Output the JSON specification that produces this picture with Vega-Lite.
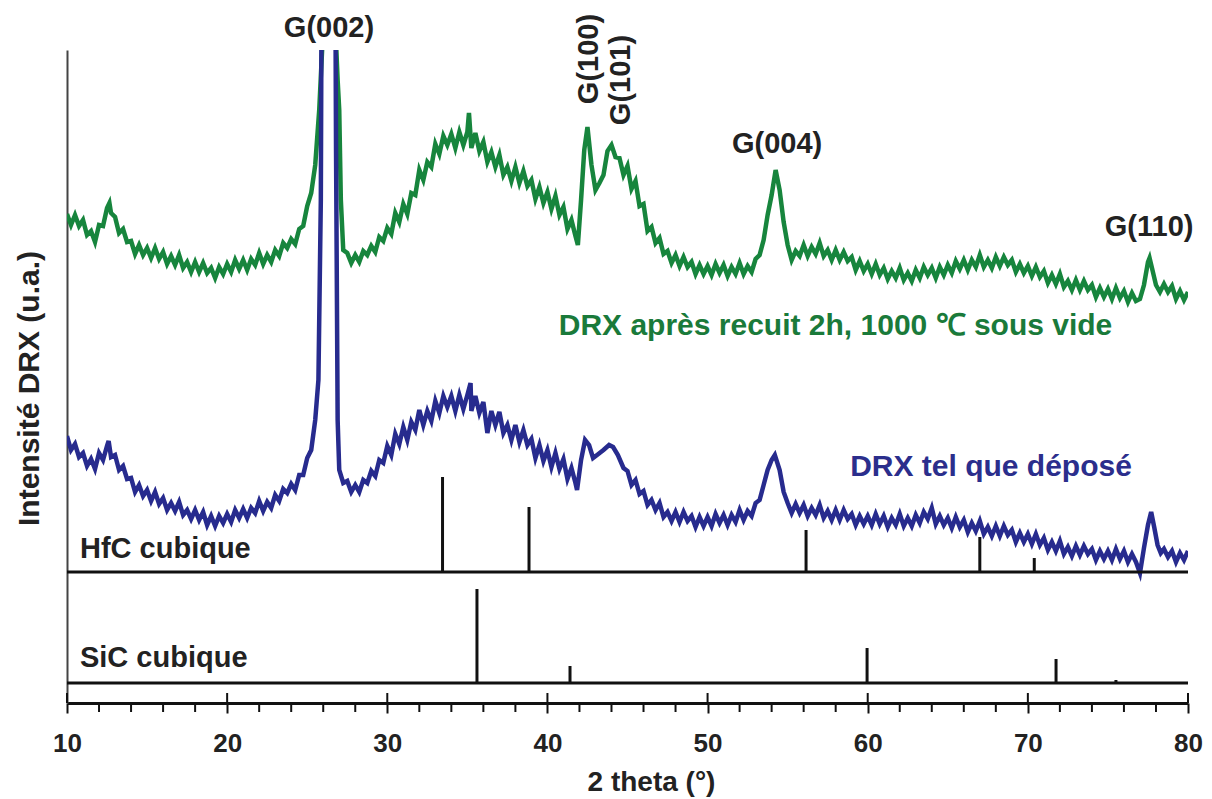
{
  "$schema": "https://vega.github.io/schema/vega-lite/v6.json",
  "width": 1121,
  "height": 653,
  "autosize": {"type": "none"},
  "padding": {"left": 67, "top": 50, "right": 24, "bottom": 96},
  "background": "white",
  "config": {"view": {"stroke": null}, "font": "Liberation Sans"},
  "datasets": {
    "green": [
      {"t":10,"v":489},{"t":10.25,"v":478},{"t":10.5,"v":488},{"t":10.75,"v":477},{"t":11,"v":483},{"t":11.25,"v":468},{"t":11.5,"v":472},{"t":11.75,"v":461},{"t":12,"v":478},{"t":12.25,"v":477},{"t":12.5,"v":495},{"t":12.65,"v":500},{"t":12.75,"v":490},{"t":13,"v":486},{"t":13.25,"v":470},{"t":13.5,"v":474},{"t":13.75,"v":461},{"t":14,"v":462},{"t":14.25,"v":449},{"t":14.5,"v":458},{"t":14.75,"v":448},{"t":15,"v":455},{"t":15.25,"v":445},{"t":15.5,"v":455},{"t":15.75,"v":444},{"t":16,"v":451},{"t":16.25,"v":439},{"t":16.5,"v":447},{"t":16.75,"v":438},{"t":17,"v":448},{"t":17.25,"v":435},{"t":17.5,"v":441},{"t":17.75,"v":431},{"t":18,"v":441},{"t":18.25,"v":431},{"t":18.5,"v":440},{"t":18.75,"v":430},{"t":19,"v":435},{"t":19.25,"v":425},{"t":19.5,"v":436},{"t":19.75,"v":429},{"t":20,"v":439},{"t":20.25,"v":431},{"t":20.5,"v":443},{"t":20.75,"v":434},{"t":21,"v":443},{"t":21.25,"v":433},{"t":21.5,"v":444},{"t":21.75,"v":438},{"t":22,"v":450},{"t":22.25,"v":439},{"t":22.5,"v":448},{"t":22.75,"v":441},{"t":23,"v":453},{"t":23.25,"v":447},{"t":23.5,"v":460},{"t":23.75,"v":455},{"t":24,"v":464},{"t":24.25,"v":459},{"t":24.5,"v":474},{"t":24.75,"v":477},{"t":25,"v":497},{"t":25.25,"v":510},{"t":25.5,"v":538},{"t":25.75,"v":593},{"t":26.4,"v":810},{"t":26.9,"v":623},{"t":27,"v":593},{"t":27.1,"v":503},{"t":27.25,"v":453},{"t":27.5,"v":450},{"t":27.75,"v":440},{"t":28,"v":448},{"t":28.25,"v":441},{"t":28.5,"v":452},{"t":28.75,"v":448},{"t":29,"v":457},{"t":29.25,"v":451},{"t":29.5,"v":466},{"t":29.75,"v":462},{"t":30,"v":475},{"t":30.25,"v":469},{"t":30.5,"v":490},{"t":30.75,"v":481},{"t":31,"v":499},{"t":31.25,"v":489},{"t":31.5,"v":510},{"t":31.75,"v":508},{"t":32,"v":533},{"t":32.25,"v":523},{"t":32.5,"v":541},{"t":32.75,"v":536},{"t":33,"v":559},{"t":33.25,"v":549},{"t":33.5,"v":567},{"t":33.75,"v":558},{"t":34,"v":569},{"t":34.25,"v":555},{"t":34.5,"v":571},{"t":34.75,"v":558},{"t":35,"v":571},{"t":35.1,"v":590},{"t":35.25,"v":555},{"t":35.5,"v":570},{"t":35.75,"v":552},{"t":36,"v":561},{"t":36.25,"v":541},{"t":36.5,"v":551},{"t":36.75,"v":536},{"t":37,"v":548},{"t":37.25,"v":528},{"t":37.5,"v":536},{"t":37.75,"v":522},{"t":38,"v":536},{"t":38.25,"v":520},{"t":38.5,"v":532},{"t":38.75,"v":517},{"t":39,"v":523},{"t":39.25,"v":504},{"t":39.5,"v":516},{"t":39.75,"v":500},{"t":40,"v":511},{"t":40.25,"v":494},{"t":40.5,"v":507},{"t":40.75,"v":488},{"t":41,"v":496},{"t":41.25,"v":474},{"t":41.5,"v":483},{"t":41.75,"v":467},{"t":41.9,"v":458},{"t":42.1,"v":503},{"t":42.3,"v":553},{"t":42.5,"v":576},{"t":42.75,"v":538},{"t":43,"v":513},{"t":43.25,"v":520},{"t":43.5,"v":528},{"t":43.75,"v":552},{"t":44,"v":558},{"t":44.25,"v":546},{"t":44.5,"v":545},{"t":44.75,"v":528},{"t":45,"v":537},{"t":45.25,"v":514},{"t":45.5,"v":522},{"t":45.75,"v":497},{"t":46,"v":499},{"t":46.25,"v":472},{"t":46.5,"v":476},{"t":46.75,"v":460},{"t":47,"v":465},{"t":47.25,"v":449},{"t":47.5,"v":452},{"t":47.75,"v":440},{"t":48,"v":448},{"t":48.25,"v":437},{"t":48.5,"v":446},{"t":48.75,"v":436},{"t":49,"v":441},{"t":49.25,"v":429},{"t":49.5,"v":438},{"t":49.75,"v":429},{"t":50,"v":437},{"t":50.25,"v":428},{"t":50.5,"v":439},{"t":50.75,"v":430},{"t":51,"v":438},{"t":51.25,"v":427},{"t":51.5,"v":436},{"t":51.75,"v":429},{"t":52,"v":440},{"t":52.25,"v":429},{"t":52.5,"v":437},{"t":52.75,"v":431},{"t":53,"v":444},{"t":53.25,"v":448},{"t":53.5,"v":463},{"t":53.75,"v":488},{"t":54,"v":508},{"t":54.25,"v":533},{"t":54.5,"v":513},{"t":54.75,"v":481},{"t":55,"v":458},{"t":55.25,"v":443},{"t":55.5,"v":452},{"t":55.75,"v":447},{"t":56,"v":458},{"t":56.25,"v":447},{"t":56.5,"v":456},{"t":56.75,"v":449},{"t":57,"v":460},{"t":57.25,"v":447},{"t":57.5,"v":453},{"t":57.75,"v":443},{"t":58,"v":453},{"t":58.25,"v":443},{"t":58.5,"v":451},{"t":58.75,"v":442},{"t":59,"v":446},{"t":59.25,"v":433},{"t":59.5,"v":442},{"t":59.75,"v":432},{"t":60,"v":439},{"t":60.25,"v":429},{"t":60.5,"v":439},{"t":60.75,"v":428},{"t":61,"v":435},{"t":61.25,"v":424},{"t":61.5,"v":432},{"t":61.75,"v":425},{"t":62,"v":435},{"t":62.25,"v":423},{"t":62.5,"v":430},{"t":62.75,"v":422},{"t":63,"v":433},{"t":63.25,"v":425},{"t":63.5,"v":436},{"t":63.75,"v":428},{"t":64,"v":435},{"t":64.25,"v":425},{"t":64.5,"v":436},{"t":64.75,"v":428},{"t":65,"v":438},{"t":65.25,"v":430},{"t":65.5,"v":442},{"t":65.75,"v":434},{"t":66,"v":443},{"t":66.25,"v":433},{"t":66.5,"v":443},{"t":66.75,"v":436},{"t":67,"v":448},{"t":67.25,"v":436},{"t":67.5,"v":443},{"t":67.75,"v":435},{"t":68,"v":446},{"t":68.25,"v":437},{"t":68.5,"v":446},{"t":68.75,"v":438},{"t":69,"v":443},{"t":69.25,"v":431},{"t":69.5,"v":439},{"t":69.75,"v":430},{"t":70,"v":437},{"t":70.25,"v":427},{"t":70.5,"v":436},{"t":70.75,"v":426},{"t":71,"v":432},{"t":71.25,"v":420},{"t":71.5,"v":428},{"t":71.75,"v":419},{"t":72,"v":429},{"t":72.25,"v":416},{"t":72.5,"v":422},{"t":72.75,"v":413},{"t":73,"v":423},{"t":73.25,"v":413},{"t":73.5,"v":422},{"t":73.75,"v":413},{"t":74,"v":418},{"t":74.25,"v":406},{"t":74.5,"v":415},{"t":74.75,"v":406},{"t":75,"v":414},{"t":75.25,"v":404},{"t":75.5,"v":415},{"t":75.75,"v":405},{"t":76,"v":412},{"t":76.25,"v":401},{"t":76.5,"v":410},{"t":76.75,"v":402},{"t":77,"v":404},{"t":77.25,"v":418},{"t":77.5,"v":441},{"t":77.6,"v":445},{"t":77.75,"v":435},{"t":78,"v":418},{"t":78.25,"v":411},{"t":78.5,"v":419},{"t":78.75,"v":411},{"t":79,"v":417},{"t":79.25,"v":404},{"t":79.5,"v":412},{"t":79.75,"v":403},{"t":80,"v":411}
    ],
    "blue": [
      {"t":10,"v":267},{"t":10.25,"v":253},{"t":10.5,"v":259},{"t":10.75,"v":246},{"t":11,"v":250},{"t":11.25,"v":237},{"t":11.5,"v":244},{"t":11.75,"v":234},{"t":12,"v":250},{"t":12.25,"v":243},{"t":12.5,"v":257},{"t":12.6,"v":262},{"t":12.75,"v":246},{"t":13,"v":248},{"t":13.25,"v":233},{"t":13.5,"v":237},{"t":13.75,"v":224},{"t":14,"v":225},{"t":14.25,"v":211},{"t":14.5,"v":218},{"t":14.75,"v":207},{"t":15,"v":213},{"t":15.25,"v":202},{"t":15.5,"v":211},{"t":15.75,"v":199},{"t":16,"v":205},{"t":16.25,"v":193},{"t":16.5,"v":200},{"t":16.75,"v":192},{"t":17,"v":201},{"t":17.25,"v":188},{"t":17.5,"v":193},{"t":17.75,"v":184},{"t":18,"v":193},{"t":18.25,"v":183},{"t":18.5,"v":191},{"t":18.75,"v":178},{"t":19,"v":187},{"t":19.25,"v":177},{"t":19.5,"v":187},{"t":19.75,"v":180},{"t":20,"v":189},{"t":20.25,"v":181},{"t":20.5,"v":193},{"t":20.75,"v":185},{"t":21,"v":194},{"t":21.25,"v":185},{"t":21.5,"v":195},{"t":21.75,"v":190},{"t":22,"v":202},{"t":22.25,"v":192},{"t":22.5,"v":201},{"t":22.75,"v":195},{"t":23,"v":208},{"t":23.25,"v":202},{"t":23.5,"v":214},{"t":23.75,"v":210},{"t":24,"v":219},{"t":24.25,"v":213},{"t":24.5,"v":228},{"t":24.75,"v":228},{"t":25,"v":245},{"t":25.25,"v":253},{"t":25.5,"v":283},{"t":25.7,"v":323},{"t":25.85,"v":503},{"t":26.3,"v":2500},{"t":26.8,"v":553},{"t":26.9,"v":283},{"t":27,"v":233},{"t":27.25,"v":220},{"t":27.5,"v":222},{"t":27.75,"v":211},{"t":28,"v":218},{"t":28.25,"v":211},{"t":28.5,"v":223},{"t":28.75,"v":220},{"t":29,"v":232},{"t":29.25,"v":227},{"t":29.5,"v":243},{"t":29.75,"v":240},{"t":30,"v":257},{"t":30.25,"v":248},{"t":30.5,"v":269},{"t":30.75,"v":259},{"t":31,"v":276},{"t":31.25,"v":263},{"t":31.5,"v":281},{"t":31.75,"v":273},{"t":32,"v":293},{"t":32.25,"v":278},{"t":32.5,"v":292},{"t":32.75,"v":282},{"t":33,"v":302},{"t":33.25,"v":290},{"t":33.5,"v":307},{"t":33.75,"v":296},{"t":34,"v":307},{"t":34.25,"v":292},{"t":34.5,"v":308},{"t":34.75,"v":294},{"t":35,"v":308},{"t":35.2,"v":320},{"t":35.25,"v":292},{"t":35.5,"v":307},{"t":35.75,"v":290},{"t":36,"v":301},{"t":36.25,"v":270},{"t":36.5,"v":292},{"t":36.75,"v":278},{"t":37,"v":291},{"t":37.25,"v":270},{"t":37.5,"v":278},{"t":37.75,"v":263},{"t":38,"v":278},{"t":38.25,"v":261},{"t":38.5,"v":273},{"t":38.75,"v":258},{"t":39,"v":264},{"t":39.25,"v":245},{"t":39.5,"v":258},{"t":39.75,"v":242},{"t":40,"v":253},{"t":40.25,"v":236},{"t":40.5,"v":250},{"t":40.75,"v":234},{"t":41,"v":244},{"t":41.25,"v":224},{"t":41.5,"v":235},{"t":41.75,"v":220},{"t":41.85,"v":213},{"t":42.1,"v":243},{"t":42.35,"v":263},{"t":42.6,"v":258},{"t":42.85,"v":245},{"t":43.1,"v":248},{"t":43.5,"v":253},{"t":43.85,"v":258},{"t":44.1,"v":256},{"t":44.4,"v":248},{"t":44.75,"v":235},{"t":45,"v":232},{"t":45.25,"v":218},{"t":45.5,"v":223},{"t":45.75,"v":209},{"t":46,"v":212},{"t":46.25,"v":198},{"t":46.5,"v":203},{"t":46.75,"v":193},{"t":47,"v":200},{"t":47.25,"v":186},{"t":47.5,"v":191},{"t":47.75,"v":182},{"t":48,"v":191},{"t":48.25,"v":181},{"t":48.5,"v":191},{"t":48.75,"v":182},{"t":49,"v":187},{"t":49.25,"v":176},{"t":49.5,"v":186},{"t":49.75,"v":177},{"t":50,"v":186},{"t":50.25,"v":177},{"t":50.5,"v":189},{"t":50.75,"v":180},{"t":51,"v":188},{"t":51.25,"v":178},{"t":51.5,"v":188},{"t":51.75,"v":181},{"t":52,"v":193},{"t":52.25,"v":183},{"t":52.5,"v":192},{"t":52.75,"v":187},{"t":53,"v":200},{"t":53.25,"v":203},{"t":53.5,"v":218},{"t":53.75,"v":233},{"t":54,"v":243},{"t":54.2,"v":248},{"t":54.5,"v":233},{"t":54.75,"v":211},{"t":55,"v":200},{"t":55.25,"v":190},{"t":55.5,"v":199},{"t":55.75,"v":190},{"t":56,"v":198},{"t":56.25,"v":187},{"t":56.5,"v":195},{"t":56.75,"v":188},{"t":57,"v":198},{"t":57.25,"v":185},{"t":57.5,"v":192},{"t":57.75,"v":183},{"t":58,"v":193},{"t":58.25,"v":183},{"t":58.5,"v":193},{"t":58.75,"v":184},{"t":59,"v":189},{"t":59.25,"v":178},{"t":59.5,"v":187},{"t":59.75,"v":179},{"t":60,"v":187},{"t":60.25,"v":178},{"t":60.5,"v":189},{"t":60.75,"v":179},{"t":61,"v":187},{"t":61.25,"v":176},{"t":61.5,"v":185},{"t":61.75,"v":178},{"t":62,"v":189},{"t":62.25,"v":177},{"t":62.5,"v":185},{"t":62.75,"v":177},{"t":63,"v":188},{"t":63.25,"v":180},{"t":63.5,"v":191},{"t":63.75,"v":184},{"t":64,"v":195},{"t":64.25,"v":179},{"t":64.5,"v":187},{"t":64.75,"v":178},{"t":65,"v":185},{"t":65.25,"v":175},{"t":65.5,"v":186},{"t":65.75,"v":176},{"t":66,"v":183},{"t":66.25,"v":171},{"t":66.5,"v":180},{"t":66.75,"v":172},{"t":67,"v":182},{"t":67.25,"v":169},{"t":67.5,"v":176},{"t":67.75,"v":167},{"t":68,"v":177},{"t":68.25,"v":167},{"t":68.5,"v":177},{"t":68.75,"v":168},{"t":69,"v":173},{"t":69.25,"v":161},{"t":69.5,"v":170},{"t":69.75,"v":161},{"t":70,"v":169},{"t":70.25,"v":159},{"t":70.5,"v":169},{"t":70.75,"v":158},{"t":71,"v":165},{"t":71.25,"v":153},{"t":71.5,"v":161},{"t":71.75,"v":152},{"t":72,"v":162},{"t":72.25,"v":149},{"t":72.5,"v":156},{"t":72.75,"v":147},{"t":73,"v":157},{"t":73.25,"v":148},{"t":73.5,"v":157},{"t":73.75,"v":149},{"t":74,"v":154},{"t":74.25,"v":143},{"t":74.5,"v":152},{"t":74.75,"v":144},{"t":75,"v":152},{"t":75.25,"v":143},{"t":75.5,"v":154},{"t":75.75,"v":144},{"t":76,"v":152},{"t":76.25,"v":141},{"t":76.5,"v":149},{"t":76.75,"v":141},{"t":77,"v":130},{"t":77.25,"v":155},{"t":77.5,"v":178},{"t":77.7,"v":191},{"t":77.9,"v":175},{"t":78.1,"v":158},{"t":78.3,"v":150},{"t":78.5,"v":154},{"t":78.75,"v":146},{"t":79,"v":152},{"t":79.25,"v":141},{"t":79.5,"v":150},{"t":79.75,"v":143},{"t":80,"v":152}
    ],
    "bases": [
      {"phase": "HfC cubique", "base": 131},
      {"phase": "SiC cubique", "base": 20}
    ],
    "sticks": [
      {"phase": "HfC cubique", "t": 33.45, "y0": 131, "y1": 226},
      {"phase": "HfC cubique", "t": 38.85, "y0": 131, "y1": 196},
      {"phase": "HfC cubique", "t": 56.15, "y0": 131, "y1": 173},
      {"phase": "HfC cubique", "t": 67.0, "y0": 131, "y1": 166},
      {"phase": "HfC cubique", "t": 70.4, "y0": 131, "y1": 145},
      {"phase": "SiC cubique", "t": 35.6, "y0": 20, "y1": 114},
      {"phase": "SiC cubique", "t": 41.41, "y0": 20, "y1": 37},
      {"phase": "SiC cubique", "t": 59.96, "y0": 20, "y1": 55},
      {"phase": "SiC cubique", "t": 71.76, "y0": 20, "y1": 44},
      {"phase": "SiC cubique", "t": 75.5, "y0": 20, "y1": 23}
    ],
    "majors": [{"t": 10}, {"t": 20}, {"t": 30}, {"t": 40}, {"t": 50}, {"t": 60}, {"t": 70}, {"t": 80}],
    "minors": [{"t":12},{"t":14},{"t":16},{"t":18},{"t":22},{"t":24},{"t":26},{"t":28},{"t":32},{"t":34},{"t":36},{"t":38},{"t":42},{"t":44},{"t":46},{"t":48},{"t":52},{"t":54},{"t":56},{"t":58},{"t":62},{"t":64},{"t":66},{"t":68},{"t":72},{"t":74},{"t":76},{"t":78}],
    "hlabels": [
      {"label": "G(002)", "t": 26.36, "v": 666},
      {"label": "G(004)", "t": 54.34, "v": 550},
      {"label": "G(110)", "t": 77.57, "v": 467}
    ],
    "vlabels": [
      {"label": "G(100)", "t": 43.16, "v": 644},
      {"label": "G(101)", "t": 45.16, "v": 623}
    ],
    "phaselabels": [
      {"label": "HfC cubique", "t": 10.81, "v": 145},
      {"label": "SiC cubique", "t": 10.81, "v": 36}
    ],
    "greenlabel": [{"label": "DRX après recuit 2h, 1000 ℃ sous vide", "t": 57.99, "v": 368}],
    "bluelabel": [{"label": "DRX tel que déposé", "t": 67.7, "v": 227}]
  },
  "layer": [
    {
      "data": {"name": "green"},
      "mark": {"type": "line", "color": "#17853d", "strokeWidth": 4.5, "clip": true},
      "encoding": {
        "x": {
          "field": "t", "type": "quantitative",
          "scale": {"domain": [10, 80], "nice": false, "zero": false},
          "axis": {
            "title": "2 theta (°)",
            "values": [10, 20, 30, 40, 50, 60, 70, 80],
            "grid": false,
            "domainColor": "#111", "domainWidth": 3,
            "tickColor": "#111", "tickWidth": 2, "tickSize": 10,
            "labelFontSize": 26, "labelFontWeight": "bold", "labelColor": "#222",
            "labelPadding": 17, "labelFlush": false, "labelOverlap": false,
            "titleFontSize": 28, "titleFontWeight": "bold", "titleColor": "#222",
            "titleX": 584, "titleY": 87, "titleBaseline": "alphabetic", "titleAlign": "center"
          }
        },
        "y": {
          "field": "v", "type": "quantitative",
          "scale": {"domain": [0, 653], "nice": false, "zero": false},
          "axis": {
            "title": "Intensité DRX (u.a.)",
            "grid": false, "ticks": false, "labels": false,
            "domainColor": "#444", "domainWidth": 2,
            "titleFontSize": 30, "titleFontWeight": "bold", "titleColor": "#222",
            "titleX": -29, "titleY": 338, "titleAngle": 270,
            "titleBaseline": "alphabetic", "titleAlign": "center"
          }
        }
      }
    },
    {
      "data": {"name": "blue"},
      "mark": {"type": "line", "color": "#272b8e", "strokeWidth": 4.5, "clip": true},
      "encoding": {
        "x": {"field": "t", "type": "quantitative"},
        "y": {"field": "v", "type": "quantitative"}
      }
    },
    {
      "data": {"name": "bases"},
      "mark": {"type": "rule", "color": "#111", "strokeWidth": 3},
      "encoding": {"y": {"field": "base", "type": "quantitative"}}
    },
    {
      "data": {"name": "sticks"},
      "mark": {"type": "rule", "color": "#111", "strokeWidth": 3},
      "encoding": {
        "x": {"field": "t", "type": "quantitative"},
        "y": {"field": "y0", "type": "quantitative"},
        "y2": {"field": "y1"}
      }
    },
    {
      "data": {"name": "majors"},
      "mark": {"type": "rule", "color": "#111", "strokeWidth": 2},
      "encoding": {
        "x": {"field": "t", "type": "quantitative"},
        "y": {"datum": 0, "type": "quantitative"},
        "y2": {"datum": 10}
      }
    },
    {
      "data": {"name": "minors"},
      "mark": {"type": "rule", "color": "#111", "strokeWidth": 2},
      "encoding": {
        "x": {"field": "t", "type": "quantitative"},
        "y": {"datum": 0, "type": "quantitative"},
        "y2": {"datum": -9}
      }
    },
    {
      "data": {"name": "hlabels"},
      "mark": {"type": "text", "fontSize": 29, "fontWeight": "bold", "color": "#222", "align": "center", "baseline": "alphabetic"},
      "encoding": {
        "x": {"field": "t", "type": "quantitative"},
        "y": {"field": "v", "type": "quantitative"},
        "text": {"field": "label"}
      }
    },
    {
      "data": {"name": "vlabels"},
      "mark": {"type": "text", "fontSize": 29, "fontWeight": "bold", "color": "#222", "align": "center", "baseline": "alphabetic", "angle": 270},
      "encoding": {
        "x": {"field": "t", "type": "quantitative"},
        "y": {"field": "v", "type": "quantitative"},
        "text": {"field": "label"}
      }
    },
    {
      "data": {"name": "phaselabels"},
      "mark": {"type": "text", "fontSize": 29, "fontWeight": "bold", "color": "#222", "align": "left", "baseline": "alphabetic"},
      "encoding": {
        "x": {"field": "t", "type": "quantitative"},
        "y": {"field": "v", "type": "quantitative"},
        "text": {"field": "label"}
      }
    },
    {
      "data": {"name": "greenlabel"},
      "mark": {"type": "text", "fontSize": 30, "fontWeight": "bold", "color": "#1a7a3a", "align": "center", "baseline": "alphabetic"},
      "encoding": {
        "x": {"field": "t", "type": "quantitative"},
        "y": {"field": "v", "type": "quantitative"},
        "text": {"field": "label"}
      }
    },
    {
      "data": {"name": "bluelabel"},
      "mark": {"type": "text", "fontSize": 30, "fontWeight": "bold", "color": "#2b2e8c", "align": "center", "baseline": "alphabetic"},
      "encoding": {
        "x": {"field": "t", "type": "quantitative"},
        "y": {"field": "v", "type": "quantitative"},
        "text": {"field": "label"}
      }
    }
  ]
}
